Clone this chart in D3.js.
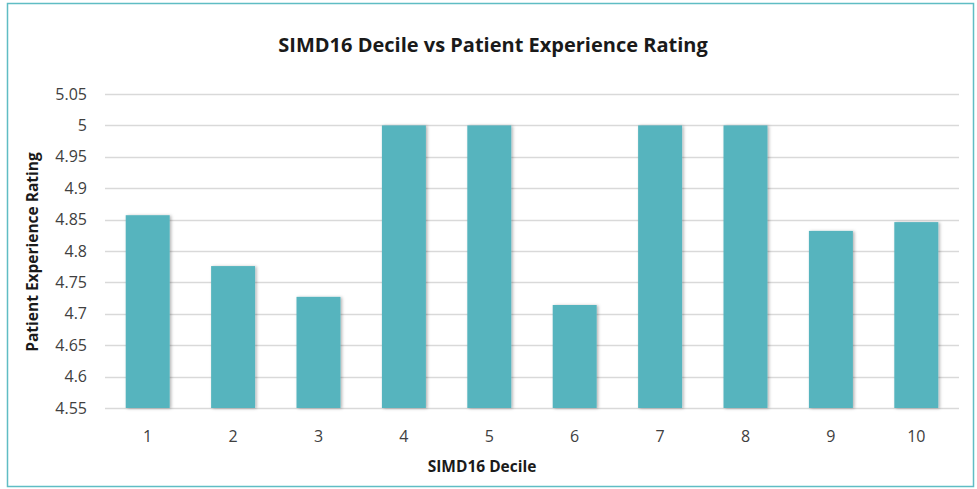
<!DOCTYPE html>
<html>
<head>
<meta charset="utf-8">
<script src="https://cdn.jsdelivr.net/npm/d3@7"></script>
<style>
  body { margin: 0; background: #fff; }
  svg text { font-family: "Open Sans", "Liberation Sans", sans-serif; }
</style>
</head>
<body>
<div id="chart"></div>
<script>
(function() {
  var width = 977,
      height = 489;

  var deciles = ["1", "2", "3", "4", "5", "6", "7", "8", "9", "10"];
  var ratings = [4.857, 4.776, 4.727, 5, 5, 4.714, 5, 5, 4.832, 4.846];
  var yTicks = [4.55, 4.6, 4.65, 4.7, 4.75, 4.8, 4.85, 4.9, 4.95, 5, 5.05];

  var margin = {top: 94, right: 18, bottom: 81, left: 105};

  var svg = d3.select("#chart")
      .append("svg")
      .attr("width", width)
      .attr("height", height);

  var defs = svg.append("defs");
  var filter = defs.append("filter")
      .attr("id", "shadow")
      .attr("x", "-20%").attr("y", "-5%")
      .attr("width", "140%").attr("height", "110%");
  filter.append("feDropShadow")
      .attr("dx", 1.5).attr("dy", 0.5)
      .attr("stdDeviation", 1.5)
      .attr("flood-color", "#000")
      .attr("flood-opacity", 0.3);

  // outer frame
  svg.append("rect")
      .attr("x", 7.5).attr("y", 3.5)
      .attr("width", 966).attr("height", 483)
      .attr("fill", "none")
      .attr("stroke", "#5fbdc4")
      .attr("stroke-width", 1.5);

  var x = d3.scaleBand()
      .domain(deciles)
      .range([margin.left, width - margin.right])
      .paddingInner(0.485)
      .paddingOuter(0.2425);

  var y = d3.scaleLinear()
      .domain([4.55, 5.05])
      .range([height - margin.bottom, margin.top]);

  // gridlines
  svg.append("g")
    .selectAll("line")
    .data(yTicks)
    .enter().append("line")
      .attr("x1", margin.left)
      .attr("x2", width - margin.right)
      .attr("y1", function(d) { return Math.round(y(d)) + 0.5; })
      .attr("y2", function(d) { return Math.round(y(d)) + 0.5; })
      .attr("stroke", "#d9d9d9")
      .attr("stroke-width", 1.5);

  // y labels
  svg.append("g")
    .selectAll("text")
    .data(yTicks)
    .enter().append("text")
      .attr("x", 87)
      .attr("y", function(d) { return y(d); })
      .attr("dy", "0.35em")
      .attr("text-anchor", "end")
      .attr("font-size", 16)
      .attr("fill", "#404040")
      .text(function(d) { return d3.format("")(+d.toFixed(2)); });

  // bars
  svg.append("g")
    .selectAll("rect")
    .data(ratings)
    .enter().append("rect")
      .attr("x", function(d, i) { return x(deciles[i]); })
      .attr("y", function(d) { return y(d); })
      .attr("width", x.bandwidth())
      .attr("height", function(d) { return y(4.55) - y(d); })
      .attr("fill", "#56b4be")
      .attr("filter", "url(#shadow)");

  // x labels
  svg.append("g")
    .selectAll("text")
    .data(deciles)
    .enter().append("text")
      .attr("x", function(d) { return x(d) + x.bandwidth() / 2; })
      .attr("y", 442)
      .attr("text-anchor", "middle")
      .attr("font-size", 16)
      .attr("fill", "#404040")
      .text(function(d) { return d; });

  // titles
  svg.append("text")
      .attr("x", 493)
      .attr("y", 52)
      .attr("text-anchor", "middle")
      .attr("font-size", 20)
      .attr("font-weight", "bold")
      .attr("fill", "#1a1a1a")
      .text("SIMD16 Decile vs Patient Experience Rating");

  svg.append("text")
      .attr("x", 482)
      .attr("y", 472)
      .attr("text-anchor", "middle")
      .attr("font-size", 15.5)
      .attr("font-weight", "bold")
      .attr("fill", "#1a1a1a")
      .text("SIMD16 Decile");

  svg.append("text")
      .attr("transform", "translate(38,252) rotate(-90)")
      .attr("text-anchor", "middle")
      .attr("font-size", 15.5)
      .attr("font-weight", "bold")
      .attr("fill", "#1a1a1a")
      .text("Patient Experience Rating");
})();
</script>
</body>
</html>
